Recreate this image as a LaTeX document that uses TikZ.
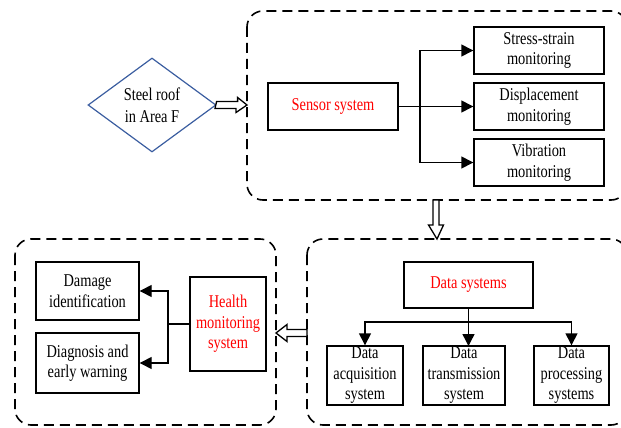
\documentclass[tikz,border=0pt]{standalone}
\usepackage{fontspec}
\setmainfont[FakeStretch=0.8]{Liberation Serif}
\usetikzlibrary{arrows.meta,shapes.geometric,calc}
\definecolor{roofblue}{RGB}{58,93,160}
\begin{document}
\begin{tikzpicture}[x=1pt,y=-1pt,
  box/.style={draw,line width=1.4pt,align=center,inner sep=0pt,font=\fontsize{18}{20.5}\selectfont},
  redtext/.style={text=red},
  group/.style={draw,line width=1.6pt,dash pattern=on 10pt off 6pt,rounded corners=16pt},
  link/.style={line width=1.4pt},
  tip/.style={-{Triangle[length=12pt,width=12pt]}},
  hollow/.style={draw,line width=1.3pt,fill=white}]
\useasboundingbox (0,0) rectangle (621,428);

% group frames
\draw[group] (247,11) rectangle (627,200);
\draw[group] (15,239) rectangle (276,425);
\draw[group] (307,239) rectangle (627,425);
\coordinate (topL) at (247,105);
\coordinate (topB) at (437,200);
\coordinate (brT) at (437,239);
\coordinate (brL) at (307,333);
\coordinate (blR) at (276,333);

% input structure
\node[draw=roofblue,line width=1.2pt,diamond,aspect=1.36,minimum width=128pt,minimum height=94pt,inner sep=0pt,
      align=center,font=\fontsize{18}{22}\selectfont] (roof) at (152,105) {Steel roof\\in Area F};

% sensor group
\node[box,redtext,minimum width=130pt,minimum height=47pt] (sensor) at (333,106.5) {Sensor system};
\node[box,minimum width=130pt,minimum height=47pt] (stress) at (539,50.5) {Stress-strain\\monitoring};
\node[box,minimum width=130pt,minimum height=47pt] (disp) at (539,106.5) {Displacement\\monitoring};
\node[box,minimum width=130pt,minimum height=47pt] (vib) at (539,162.5) {Vibration\\monitoring};

% data group
\node[box,redtext,minimum width=129pt,minimum height=46pt] (data) at (468.5,285) {Data systems};
\node[box,minimum width=76pt,minimum height=59pt] (acq) at (365,375.5) {Data\\acquisition\\system};
\node[box,minimum width=82pt,minimum height=59pt] (trans) at (464,375.5) {Data\\transmission\\system};
\node[box,minimum width=75pt,minimum height=59pt] (proc) at (571.5,375.5) {Data\\processing\\systems};

% health group
\node[box,redtext,minimum width=76pt,minimum height=94pt] (health) at (228,324) {Health\\monitoring\\system};
\node[box,minimum width=103pt,minimum height=58pt] (damage) at (87.5,291) {Damage\\identification};
\node[box,minimum width=103pt,minimum height=60pt] (diag) at (87.5,363) {Diagnosis and\\early warning};

% sensor branches
\coordinate (sj) at (420,106.5);
\draw[link] (sensor.east) -- (sj);
\draw[link,tip] (sj) |- (stress.west);
\draw[link,tip] (sj) -- (disp.west);
\draw[link,tip] (sj) |- (vib.west);

% data branches
\coordinate (dj) at (468.5,322);
\draw[link] (data.south) -- (dj);
\draw[link,tip] (dj) -| (acq.north);
\draw[link,tip] (dj) -- (468.5,346);
\draw[link,tip] (dj) -| (proc.north);

% health branches
\coordinate (hj) at (168,324);
\draw[link] (health.west) -- (hj);
\draw[link,tip] (hj) |- (damage.east);
\draw[link,tip] (hj) |- (diag.east);

% hollow block arrows between stages
\draw[hollow] (roof.east) ++(0,-3.5) -- ++(21,0) -- ++(0,-4) -- (topL) -- ++(-11,7.5) -- ++(0,-4) -- ++(-21,0) -- cycle;
\draw[hollow] (topB) ++(-4,0) -- ++(0,25) -- ++(-4.5,0) -- (brT) -- ++(6.5,-14) -- ++(-4.5,0) -- ++(0,-25) -- cycle;
\draw[hollow] (brL) ++(0,-3.5) -- ++(-20,0) -- ++(0,-5) -- (blR) -- ++(11,8.5) -- ++(0,-5) -- ++(20,0) -- cycle;
\end{tikzpicture}
\end{document}
